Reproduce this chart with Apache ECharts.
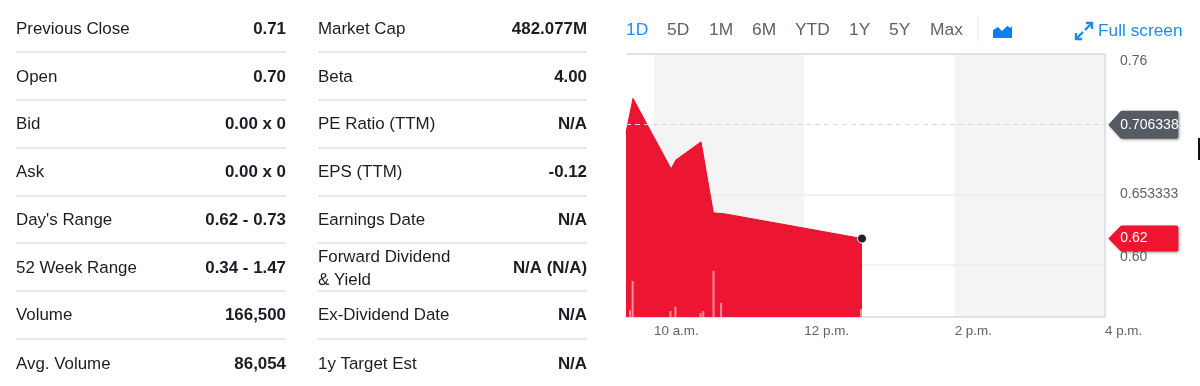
<!DOCTYPE html>
<html>
<head>
<meta charset="utf-8">
<style>html,body{margin:0;padding:0;background:#fff}#c{width:1200px;height:386px}</style>
<script src="https://cdn.jsdelivr.net/npm/echarts@6/dist/echarts.min.js"></script>
</head>
<body>
<div id="c"></div>
<script>
// ---- data ----
const statLabelsLeft = ['Previous Close','Open','Bid','Ask',"Day's Range",'52 Week Range','Volume','Avg. Volume'];
const statValuesLeft = ['0.71','0.70','0.00 x 0','0.00 x 0','0.62 - 0.73','0.34 - 1.47','166,500','86,054'];
const statLabelsRight = ['Market Cap','Beta','PE Ratio (TTM)','EPS (TTM)','Earnings Date','Forward Dividend\n& Yield','Ex-Dividend Date','1y Target Est'];
const statValuesRight = ['482.077M','4.00','N/A','-0.12','N/A','N/A (N/A)','N/A','N/A'];
const rangeButtons = ['1D','5D','1M','6M','YTD','1Y','5Y','Max'];
const rangeButtonLefts = [626,667,709,752,795,849,889,930];
const priceMinutes = [577.6,583.2,613.6,617.6,637.5,647.3,656.7,766];
const priceValues = [0.7002,0.7263,0.6728,0.6797,0.6933,0.6395,0.6387,0.62];
const volumeMinutes = [580.8,582.9,613.1,617.1,637.1,639.3,647.5,653.5,765.2];
const volumeValues = [6000,31500,5200,8800,3500,5200,40300,12300,7000];
const xTickMinutes = [600,720,840,960];
const xTickLabels = ['10 a.m.','12 p.m.','2 p.m.','4 p.m.'];
const yTickValues = [0.60,0.653333,0.76];
const yTickLabels = ['{up|0.60}','0.653333','0.76'];
const previousClose = 0.706338;
const lastPrice = 0.62;
const shadedSessions = [[600,720],[840,960]];

// ---- table & toolbar text ----
const FONT = 'Liberation Sans, Arial, sans-serif';
const DARK = '#1a1d21';
const RULE = '#e6e8ef';
const rowCentres = [29,77,124,172,220,268,315,364];
const ruleYs = [52,100,148,196,243,291,339];
const g = [];
function text(x,y,t,o){ g.push({type:'text',silent:true,x:x,y:y,style:Object.assign({text:t,font:'16.9px '+FONT,fill:DARK,align:'left',verticalAlign:'middle'},o||{})}); }
function column(labels,values,left,right){
  labels.forEach((l,i)=>{
    text(left,rowCentres[i]+0.5,l,l.indexOf('\n')>=0?{lineHeight:23}:{});
    text(right,rowCentres[i]+0.5,values[i],{align:'right',font:'bold 16.9px '+FONT});
  });
  ruleYs.forEach(y=>g.push({type:'rect',silent:true,shape:{x:left,y:y-1,width:right-left,height:2},style:{fill:RULE}}));
}
column(statLabelsLeft,statValuesLeft,16,286);
column(statLabelsRight,statValuesRight,318,587);
rangeButtons.forEach((b,i)=>text(rangeButtonLefts[i],30,b,{fill:i===0?'#1b8cf5':'#5b636a',font:'17.4px '+FONT}));
g.push({type:'rect',silent:true,shape:{x:977.5,y:17,width:1,height:24},style:{fill:'#e3e5ea'}});
g.push({type:'polygon',silent:true,shape:{points:[[993,30],[998,27],[1002,31],[1007,26],[1011,28],[1012,25],[1012,38],[993,38]]},style:{fill:'#0f7ff0'}});
[[[1086,23],[1092,23],[1092,29]],[[1092,23],[1085,30]],[[1082,39],[1076,39],[1076,33]],[[1076,39],[1083,32]]].forEach(p=>
  g.push({type:'polyline',silent:true,shape:{points:p},style:{stroke:'#1b8cf5',lineWidth:2.4,fill:null}}));
text(1098,31,'Full screen',{fill:'#1b8cf5',font:'17.3px '+FONT});
g.push({type:'rect',silent:true,shape:{x:1198,y:138,width:2,height:22},style:{fill:'#111'}});

const TAG = 'path://M0 13.5 L12 0.8 Q12.5 0 14 0 H68 Q70 0 70 2 V25 Q70 27 68 27 H14 Q12.5 27 12 26.2 Z';
function tag(value,color,h){
  return {coord:[960,value],symbol:TAG,symbolSize:[70,h],symbolKeepAspect:false,symbolOffset:[38.3,0],
    itemStyle:{color:color,shadowBlur:3,shadowColor:'rgba(0,0,0,0.4)',shadowOffsetX:1,shadowOffsetY:1},
    label:{show:true,formatter:String(value),position:'insideLeft',distance:12,color:'#fff',fontSize:14,fontFamily:FONT}};
}

const chart = echarts.init(document.getElementById('c'),null,{renderer:'canvas'});
chart.setOption({
  animation:false,
  backgroundColor:'#fff',
  graphic:g,
  grid:{left:626,right:95,top:54,bottom:69,show:false},
  xAxis:{type:'value',z:2,min:577.6,max:960,
    axisLine:{show:true,onZero:false,lineStyle:{color:'#e0e2ea',width:2}},
    axisTick:{show:false,customValues:xTickMinutes},
    splitLine:{show:false},
    axisLabel:{customValues:xTickMinutes,align:'left',margin:8,color:'#5b636a',fontSize:13.4,fontFamily:FONT,
      formatter:(v)=>xTickLabels[xTickMinutes.indexOf(v)]}},
  yAxis:[
    {type:'value',z:2,position:'right',min:0.5605,max:0.76,
     axisLine:{show:true,onZero:false,lineStyle:{color:'#e0e2ea',width:2}},
     axisTick:{show:false,customValues:yTickValues},
     splitLine:{show:true,lineStyle:{color:'#ebecf0',width:1.5}},
     axisLabel:{customValues:yTickValues,margin:15,align:'left',verticalAlignMaxLabel:'top',color:'#5b636a',fontSize:14,fontFamily:FONT,
       rich:{up:{color:'#5b636a',fontSize:14,fontFamily:FONT,padding:[0,0,16,0]}},
       formatter:(v)=>yTickLabels[yTickValues.indexOf(v)]}},
    {type:'value',min:0,max:230000,show:false,splitLine:{show:false}}
  ],
  series:[
    {type:'line',z:1,data:[],silent:true,symbol:'none',
     markArea:{silent:true,itemStyle:{color:'#f4f4f5'},data:shadedSessions.map(s=>[{xAxis:s[0]},{xAxis:s[1]}])},
     markLine:{silent:true,symbol:'none',precision:6,label:{show:false},data:[
       {yAxis:previousClose,lineStyle:{color:'#d5d7dc',type:[5,4],width:1}},
       {yAxis:0.76,lineStyle:{color:'#e0e2ea',type:'solid',width:2}}]}},
    {type:'line',z:3,silent:true,data:priceMinutes.map((m,i)=>[m,priceValues[i]]),symbol:'none',showSymbol:false,
     lineStyle:{color:'#ec0a27',width:1},
     areaStyle:{color:'#ec0a27',opacity:0.95,origin:'start'},
     clip:false,
     markPoint:{silent:true,animation:false,data:[
       tag(previousClose,'#555b62',28),
       tag(lastPrice,'#f0142f',26),
       {coord:[priceMinutes[priceMinutes.length-1],lastPrice],symbol:'circle',symbolSize:9,
        itemStyle:{color:'#1d2228',borderColor:'#fff',borderWidth:1},label:{show:false}}
     ]}},
    {type:'bar',z:4,silent:true,yAxisIndex:1,barWidth:2,data:volumeMinutes.map((m,i)=>[m,volumeValues[i]]),
     itemStyle:{color:'rgba(255,255,255,0.5)'}}
  ]
});
</script>
</body>
</html>
